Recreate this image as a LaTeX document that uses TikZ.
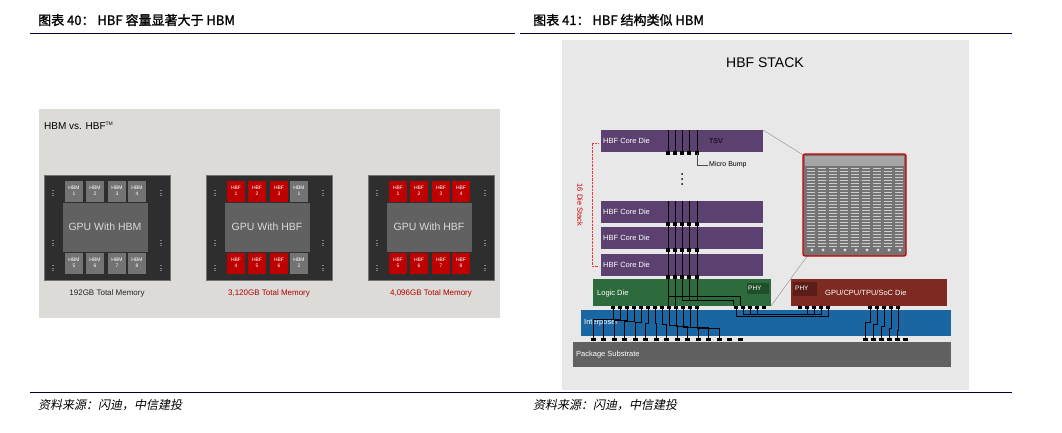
\documentclass[tikz,border=0pt]{standalone}
\usepackage{fontspec}
\setmainfont{Liberation Sans}
\newfontfamily\cjk{Noto Sans CJK SC}
\newfontfamily\cjkb{Noto Sans CJK SC}[FakeBold=1.5]
\newfontfamily\cjkit{Noto Sans CJK SC}[FakeSlant=0.2]
\definecolor{purp}{HTML}{5B4070}
\definecolor{grn}{HTML}{2E6B3C}
\definecolor{dgrn}{HTML}{1F4F2B}
\definecolor{rdie}{HTML}{7C2A22}
\definecolor{rphy}{HTML}{5A1D17}
\definecolor{blu}{HTML}{1A66A3}
\definecolor{lbg}{HTML}{DCDBD7}
\begin{document}
\begin{tikzpicture}[x=1pt,y=-1pt,
  hdr/.style={anchor=west,font=\cjkb\fontsize{13}{13}\selectfont,inner sep=0},
  src/.style={anchor=west,font=\cjkit\fontsize{12}{12}\selectfont,inner sep=0},
  chip/.style={fill=black!82,draw=black!55,line width=1pt},
  mem/.style={minimum width=18pt,minimum height=21pt,inner sep=0,align=center,text=white,font=\fontsize{5}{5.5}\selectfont},
  hbm/.style={mem,fill=black!55},
  hbf/.style={mem,fill=red!75!black},
  gpu/.style={fill=black!62,minimum width=85pt,minimum height=49pt,inner sep=0,text=black!15,font=\fontsize{10.5}{11}\selectfont},
  lbl/.style={text=white,font=\fontsize{7.5}{8}\selectfont,anchor=west,inner sep=0},
  bump/.style={fill=black,minimum size=3.5pt,inner sep=0},
  tsv/.style={line width=0.9pt,black}]
\useasboundingbox (0,0) rectangle (1062,432);
\fill[white] (0,0) rectangle (1062,432);
% headers
\node[hdr] (h1) at (38,20) {图表 40： HBF 容量显著大于 HBM};
\node[hdr] (h2) at (533,20) {图表 41： HBF 结构类似 HBM};
\draw[line width=0.8pt,black!80!blue] (30,33) -- (515,33);
\draw[line width=0.8pt,black!80!blue] (520,33) -- (1012,33);
\draw[line width=0.8pt,black!80!blue] (30,392) -- (1012,392);
\node[src] (s1) at (38,405) {资料来源：闪迪，中信建投};
\node[src] (s2) at (533,405) {资料来源：闪迪，中信建投};
% left panel
\fill[lbg] (39,109) rectangle (500,318);
\node[anchor=west,inner sep=0,font=\fontsize{10}{10}\selectfont] (t1) at (44,126) {HBM vs. HBF\textsuperscript{\tiny TM}};
\foreach \cx/\lab/\col/\nm in {44/{192GB Total Memory}/black!85/a, 206/{3,120GB Total Memory}/red!70!black/b, 368/{4,096GB Total Memory}/red!70!black/c}{
  \fill[chip] (\cx,175) rectangle ++(126,105);
  \node[inner sep=0,text=\col,font=\fontsize{8}{8}\selectfont] (cap\nm) at (\cx+63,293) {\lab};
  \foreach \yy in {190,240,265}{
    \foreach \k in {0,1,2}{\fill[black!50] (\cx+8,\yy+\k*2.5) rectangle ++(2,1.2); \fill[black!50] (\cx+116,\yy+\k*2.5) rectangle ++(2,1.2);}
  }
}
\node[gpu] (g1) at (44+61,227) {GPU With HBM};
\node[gpu] (g2) at (206+61,227) {GPU With HBF};
\node[gpu] (g3) at (368+61,227) {GPU With HBF};
\foreach \i/\dx in {1/30,2/51,3/73,4/93}{
  \pgfmathtruncatemacro\j{\i+4}
  \node[hbm] (a\i) at (44+\dx,191) {HBM\\\i};
  \node[hbm] (a\j) at (44+\dx,263) {HBM\\\j};
  \node[hbf] (c\i) at (368+\dx,191) {HBF\\\i};
  \node[hbf] (c\j) at (368+\dx,263) {HBF\\\j};
}
\node[hbf] (b1) at (206+30,191) {HBF\\1};
\node[hbf] (b2) at (206+51,191) {HBF\\2};
\node[hbf] (b3) at (206+73,191) {HBF\\3};
\node[hbm] (b4) at (206+93,191) {HBM\\1};
\node[hbf] (b5) at (206+30,263) {HBF\\4};
\node[hbf] (b6) at (206+51,263) {HBF\\5};
\node[hbf] (b7) at (206+73,263) {HBF\\6};
\node[hbm] (b8) at (206+93,263) {HBM\\2};
% right panel
\fill[black!9] (562,40) rectangle (969,390);
\node[inner sep=0,font=\fontsize{14}{14}\selectfont] (t2) at (765,63) {HBF STACK};
\fill[black!62] (573,342) rectangle (951,367);
\node[lbl] (ps) at (576,355) {Package Substrate};
\fill[blu] (581,310) rectangle (951,336);
\node[lbl] (ip) at (584,323) {Interposer};
\fill[grn] (593,279) rectangle (771,306);
\fill[dgrn] (747,283) rectangle (769,294);
\node[lbl,font=\fontsize{6.5}{6}\selectfont] (phy1) at (748,288.5) {PHY};
\node[lbl] (ld) at (597,294) {Logic Die};
\fill[rdie] (791,279) rectangle (947,306);
\fill[rphy] (793,282) rectangle (817,296);
\node[lbl,font=\fontsize{6.5}{6}\selectfont] (phy2) at (795,288.5) {PHY};
\node[lbl] (gd) at (825,293) {GPU/CPU/TPU/SoC Die};
\foreach \y/\nm in {130/d1,201/d2,227/d3,254/d4}{
  \fill[purp] (601,\y) rectangle (763,\y+22);
  \node[lbl] (\nm) at (603,\y+11) {HBF Core Die};
}
% TSVs
\foreach \x in {668,675,682,689,697}{
  \draw[tsv] (\x,130) -- (\x,152);
  \draw[tsv] (\x,201) -- (\x,300);
  \foreach \y in {153,224,250,277} \node[bump] at (\x,\y) {};
}
\foreach \y in {174,179,184} \fill (682,\y) circle (1pt);
\draw[black!70] (700,141) -- (708,141);
\node[anchor=west,inner sep=0,font=\fontsize{7}{7}\selectfont] (tsvl) at (709,141) {TSV};
\draw[black!70] (697,153) |- (708,165);
\node[anchor=west,inner sep=0,font=\fontsize{7}{7}\selectfont] (mbl) at (709,165) {Micro Bump};
% 16 die stack
\draw[red!80,densely dotted] (598,143) -- (592,143) -- (592,266) -- (598,266);
\node[rotate=-90,text=red!80!black,inner sep=0,font=\fontsize{7.5}{7}\selectfont] (dsl) at (580,205) {16 Die Stack};
% wiring logic die
\draw[tsv,line width=0.6pt] (668,300) -- (668,306) (675,300) -- (675,306);
\draw[black,line width=0.6pt] (668,296) -- (740,296) -- (740,306);
\draw[black,line width=0.6pt] (682,300) -| (733,306);
% bumps
\foreach \x in {613,620,...,700} \node[bump] at (\x,307.5) {};
\foreach \x in {736,743,...,765} \node[bump] at (\x,307.5) {};
\foreach \x in {800,807,...,828} \node[bump] at (\x,307.5) {};
\foreach \x in {870,877,...,898} \node[bump] at (\x,307.5) {};
% interposer wiring
\foreach \x [count=\i] in {613,620,...,700}{
  \pgfmathsetmacro\bx{593+(\i-1)*10.5}
  \draw[black,line width=0.5pt] (\x,309) -- (\x,318+\i*0.8) -- (\bx,318+\i*0.8) -- (\bx,338);
}
\draw[black,line width=0.8pt] (736,309) -- (736,316) -- (828,316) -- (828,309);
\foreach \x in {743,750,757}{\draw[black,line width=0.5pt] (\x,309) -- (\x,314) -- (\x+64,314) -- (\x+64,309);}
\foreach \x [count=\i] in {870,877,...,898}{
  \pgfmathsetmacro\bx{865+(\i-1)*8}
  \draw[black,line width=0.5pt] (\x,309) -- (\x,320+\i*2) -- (\bx,320+\i*2) -- (\bx,338);
}
\foreach \x in {593,603.5,...,750} \node[bump,minimum width=5pt] at (\x,339.5) {};
\foreach \x in {865,873,...,906} \node[bump,minimum width=5pt] at (\x,339.5) {};
% zoom panel
\draw[black!45] (763,130) -- (808,158);
\draw[black!45] (771,306) -- (808,255);
\draw[red!80!black,line width=1.3pt,fill=black!55,rounded corners=2pt] (803,154) rectangle (906,256);
\fill[black!35] (805,156) rectangle (904,166);
\foreach \y in {168,171,...,246}{
  \foreach \x in {807,818,...,897} \fill[white!80!black] (\x,\y) rectangle ++(8,1.1);
}
\foreach \x in {812,823,...,901} \fill[white!85!black] (\x,250) circle (1.6pt);
\end{tikzpicture}
\end{document}
